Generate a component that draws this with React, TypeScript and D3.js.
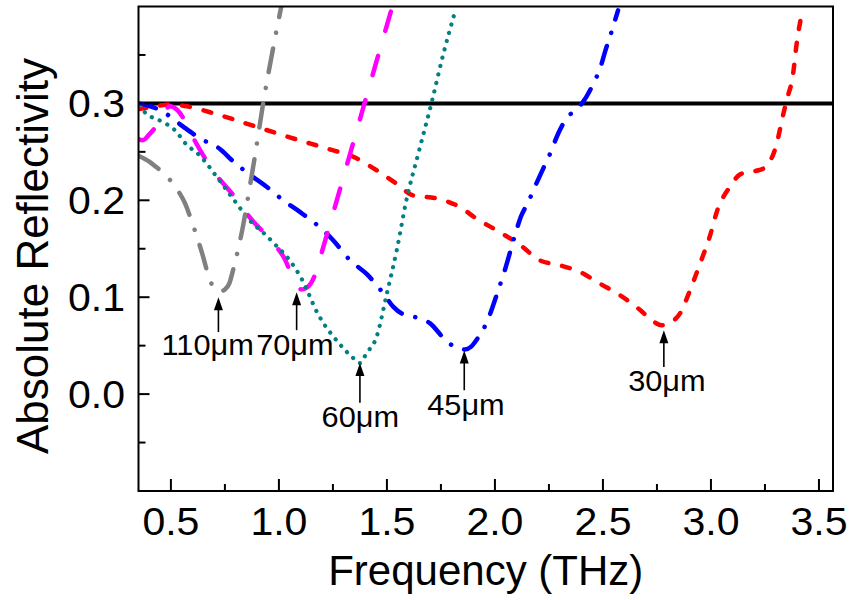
import React from 'react';
import * as d3 from 'd3';

// ---------- data ----------
const f110 = [0.35, 0.4, 0.434, 0.48, 0.52, 0.565, 0.6, 0.645, 0.68, 0.705, 0.727, 0.75, 0.77, 0.79, 0.83, 0.866, 0.89, 0.927, 0.98, 1.02];
const r110 = [0.246, 0.24, 0.234, 0.225, 0.214, 0.197, 0.176, 0.145, 0.118, 0.108, 0.106, 0.108, 0.114, 0.13, 0.169, 0.215, 0.247, 0.3, 0.365, 0.41];

const f70 = [0.35, 0.37, 0.4, 0.43, 0.46, 0.495, 0.53, 0.57, 0.6, 0.64, 0.7, 0.79, 0.87, 0.97, 1.03, 1.06, 1.085, 1.105, 1.13, 1.15, 1.167, 1.19, 1.25, 1.3, 1.35, 1.4, 1.45, 1.525];
const r70 = [0.263, 0.262, 0.268, 0.276, 0.288, 0.297, 0.293, 0.28, 0.266, 0.25, 0.229, 0.205, 0.181, 0.157, 0.138, 0.122, 0.111, 0.108, 0.11, 0.115, 0.123, 0.14, 0.186, 0.225, 0.264, 0.303, 0.342, 0.4];

const f60 = [0.35, 0.395, 0.47, 0.52, 0.57, 0.63, 0.72, 0.8, 0.87, 0.93, 0.98, 1.05, 1.105, 1.18, 1.28, 1.34, 1.375, 1.405, 1.452, 1.5, 1.545, 1.59, 1.645, 1.707, 1.76, 1.817];
const r60 = [0.297, 0.288, 0.28, 0.272, 0.258, 0.247, 0.222, 0.198, 0.178, 0.166, 0.155, 0.138, 0.119, 0.083, 0.052, 0.038, 0.032, 0.042, 0.059, 0.104, 0.148, 0.2, 0.248, 0.301, 0.35, 0.396];

const f45 = [0.35, 0.39, 0.43, 0.48, 0.557, 0.634, 0.727, 0.789, 0.881, 0.943, 1.02, 1.097, 1.19, 1.25, 1.33, 1.406, 1.483, 1.53, 1.57, 1.622, 1.7, 1.77, 1.82, 1.86, 1.89, 1.915, 1.96, 2.015, 2.046, 2.09, 2.12, 2.154, 2.185, 2.224, 2.255, 2.293, 2.33, 2.37, 2.406, 2.455, 2.488, 2.512, 2.537, 2.57];
const r45 = [0.3, 0.298, 0.295, 0.289, 0.276, 0.264, 0.253, 0.24, 0.224, 0.214, 0.2, 0.188, 0.172, 0.159, 0.138, 0.124, 0.104, 0.09, 0.083, 0.08, 0.073, 0.056, 0.048, 0.046, 0.049, 0.056, 0.073, 0.107, 0.128, 0.162, 0.183, 0.198, 0.214, 0.233, 0.248, 0.269, 0.284, 0.293, 0.301, 0.32, 0.337, 0.355, 0.372, 0.396];

const f30 = [0.35, 0.43, 0.5, 0.573, 0.71, 0.88, 1.05, 1.244, 1.344, 1.452, 1.545, 1.622, 1.73, 1.838, 1.915, 2.008, 2.116, 2.208, 2.3, 2.394, 2.486, 2.579, 2.671, 2.74, 2.77, 2.8, 2.856, 2.903, 2.95, 2.995, 3.03, 3.088, 3.13, 3.165, 3.22, 3.25, 3.3, 3.335, 3.35, 3.38, 3.397, 3.42];
const r30 = [0.294, 0.297, 0.299, 0.297, 0.289, 0.277, 0.265, 0.252, 0.245, 0.231, 0.217, 0.205, 0.202, 0.193, 0.181, 0.169, 0.154, 0.138, 0.133, 0.126, 0.114, 0.102, 0.087, 0.074, 0.071, 0.073, 0.083, 0.107, 0.135, 0.163, 0.19, 0.214, 0.226, 0.229, 0.231, 0.234, 0.255, 0.289, 0.303, 0.33, 0.362, 0.392];

const refLevel = 0.3;

const xMajorTicks = [0.5, 1.0, 1.5, 2.0, 2.5, 3.0, 3.5];
const xTickLabels = ['0.5', '1.0', '1.5', '2.0', '2.5', '3.0', '3.5'];
const xMinorTicks = [0.75, 1.25, 1.75, 2.25, 2.75, 3.25];
const yMajorTicks = [0.0, 0.1, 0.2, 0.3];
const yTickLabels = ['0.0', '0.1', '0.2', '0.3'];
const yMinorTicks = [-0.05, 0.05, 0.15, 0.25, 0.35];

const annLabels = ['110μm', '70μm', '60μm', '45μm', '30μm'];
const annFreq = [0.72, 1.082, 1.375, 1.858, 2.782];
const annTip = [0.1, 0.105, 0.032, 0.045, 0.066];
const annTail = [0.064, 0.066, -0.009, 0.004, 0.028];
const annTextFreq = [0.67, 1.074, 1.377, 1.866, 2.796];
const annTextR = [0.04, 0.04, -0.034, -0.022, 0.003];

// ---------- layout / style ----------
const W = 854;
const H = 600;
const plot = { left: 138.5, right: 833, top: 6.5, bottom: 491 };
const FONT = '"Liberation Sans", Arial, sans-serif';

const series = [
  { f: f30, r: r30, color: '#ff0000', dash: '8 14', width: 4.5 },
  { f: f45, r: r45, color: '#0000ff', dash: '18 14 0.1 14', width: 4.5 },
  { f: f70, r: r70, color: '#ff00ff', dash: '20 26', width: 4.5 },
  { f: f60, r: r60, color: '#008080', dash: '0.1 8.5', width: 4.2 },
  { f: f110, r: r110, color: '#808080', dash: '24 16 0.1 16', width: 4.5 },
];

export default function App() {
  const x = d3.scaleLinear().domain([0.35, 3.565]).range([plot.left, plot.right]);
  const y = d3.scaleLinear().domain([-0.1, 0.4]).range([plot.bottom, plot.top]);

  const line = d3
    .line<[number, number]>()
    .x((d) => x(d[0]))
    .y((d) => y(d[1]))
    .curve(d3.curveMonotoneX);

  return (
    <svg
      width={W}
      height={H}
      style={{ position: 'absolute', left: 0, top: 0, background: '#fff' }}
      fontFamily={FONT}
    >
      <defs>
        <clipPath id="plotclip">
          <rect x={plot.left} y={plot.top} width={plot.right - plot.left} height={plot.bottom - plot.top} />
        </clipPath>
      </defs>
      <rect x={0} y={0} width={W} height={H} fill="#fff" />

      <g clipPath="url(#plotclip)">
        <line x1={x(0.35)} x2={x(3.565)} y1={y(refLevel)} y2={y(refLevel)} stroke="#000" strokeWidth={4} />
        {series.map((s, i) => (
          <path
            key={i}
            d={line(s.f.map((v, j) => [v, s.r[j]] as [number, number])) || ''}
            fill="none"
            stroke={s.color}
            strokeWidth={s.width}
            strokeDasharray={s.dash}
            strokeLinecap="round"
            strokeLinejoin="round"
          />
        ))}
      </g>

      {/* frame */}
      <rect
        x={plot.left}
        y={plot.top}
        width={plot.right - plot.left}
        height={plot.bottom - plot.top}
        fill="none"
        stroke="#000"
        strokeWidth={2}
      />

      {/* x ticks */}
      {xMajorTicks.map((t, i) => (
        <g key={'xm' + i}>
          <line x1={x(t)} x2={x(t)} y1={plot.bottom} y2={plot.bottom - 12} stroke="#000" strokeWidth={2} />
          <text
            transform={`translate(${x(t)}, 535) scale(1.08, 1)`}
            textAnchor="middle"
            fontSize={38}
            fill="#000"
          >
            {xTickLabels[i]}
          </text>
        </g>
      ))}
      {xMinorTicks.map((t, i) => (
        <line key={'xn' + i} x1={x(t)} x2={x(t)} y1={plot.bottom} y2={plot.bottom - 7} stroke="#000" strokeWidth={2} />
      ))}

      {/* y ticks */}
      {yMajorTicks.map((t, i) => (
        <g key={'ym' + i}>
          <line x1={plot.left} x2={plot.left + 11} y1={y(t)} y2={y(t)} stroke="#000" strokeWidth={2} />
          <text
            transform={`translate(125, ${y(t) + 13.5}) scale(1.08, 1)`}
            textAnchor="end"
            fontSize={38}
            fill="#000"
          >
            {yTickLabels[i]}
          </text>
        </g>
      ))}
      {yMinorTicks.map((t, i) => (
        <line key={'yn' + i} x1={plot.left} x2={plot.left + 7} y1={y(t)} y2={y(t)} stroke="#000" strokeWidth={2} />
      ))}

      {/* annotations */}
      {annLabels.map((lab, i) => {
        const ax = x(annFreq[i]);
        const tipY = y(annTip[i]);
        const tailY = y(annTail[i]);
        return (
          <g key={'a' + i}>
            <line x1={ax} x2={ax} y1={tailY} y2={tipY + 8} stroke="#000" strokeWidth={1.6} />
            <path d={`M${ax},${tipY} L${ax - 4.5},${tipY + 13} L${ax + 4.5},${tipY + 13} Z`} fill="#000" />
            <text
              transform={`translate(${x(annTextFreq[i])}, ${y(annTextR[i])}) scale(1.06, 1)`}
              textAnchor="middle"
              fontSize={29}
              fill="#000"
            >
              {lab}
            </text>
          </g>
        );
      })}

      {/* axis titles */}
      <text x={(plot.left + plot.right) / 2} y={585} textAnchor="middle" fontSize={42} fill="#000">
        Frequency (THz)
      </text>
      <text
        transform={`translate(48, 256) rotate(-90)`}
        textAnchor="middle"
        fontSize={44}
        fill="#000"
      >
        Absolute Reflectivity
      </text>
    </svg>
  );
}
